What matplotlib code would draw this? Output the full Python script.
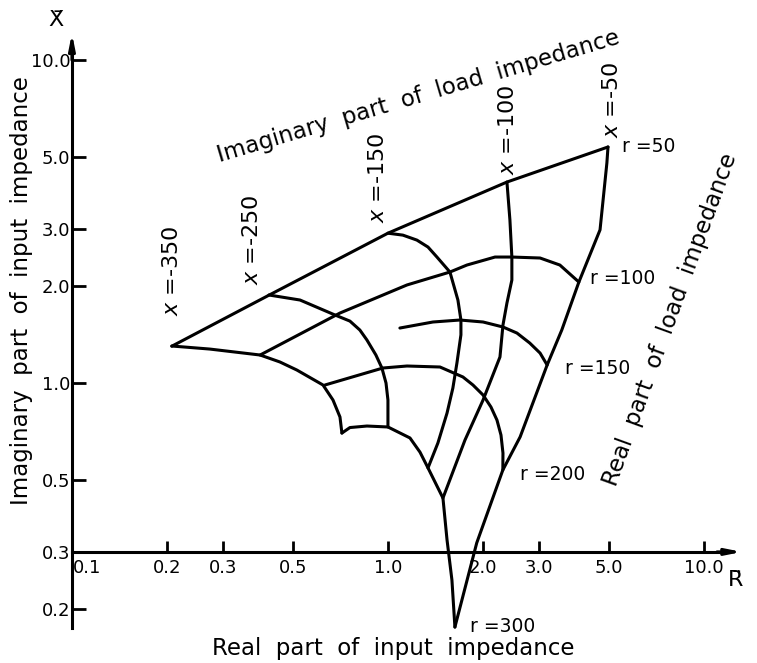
import numpy as np
import matplotlib
matplotlib.use("Agg")
import matplotlib.pyplot as plt
from matplotlib.ticker import NullLocator
import matplotlib.transforms as mtransforms

# input impedance (R, X) traced for constant load r and constant load x
r50_R = [0.207, 0.420, 1.0, 2.38, 4.97]
r50_X = [1.30, 1.87, 2.91, 4.19, 5.38]

r100_R = [4.02, 3.50, 3.03, 2.467, 2.182, 1.778, 1.571, 1.149, 0.705, 0.394]
r100_X = [2.054, 2.319, 2.438, 2.455, 2.455, 2.319, 2.206, 2.012, 1.647, 1.221]

r150_R = [3.19, 3.03, 2.81, 2.56, 2.312, 2.0, 1.69, 1.388, 1.091]
r150_X = [1.137, 1.238, 1.33, 1.428, 1.491, 1.545, 1.567, 1.545, 1.48]

r200_R = [2.31, 2.312, 2.279, 2.213, 2.118, 2.0, 1.858, 1.727, 1.461, 1.149, 0.964, 0.632]
r200_X = [0.538, 0.607, 0.690, 0.768, 0.843, 0.918, 0.986, 1.044, 1.121, 1.129, 1.113, 0.986]

r300_R = [0.715, 0.758, 0.858, 1.0, 1.174, 1.263, 1.339, 1.493, 1.538, 1.594, 1.629]
r300_X = [0.700, 0.728, 0.736, 0.731, 0.676, 0.611, 0.546, 0.4405, 0.327, 0.2455, 0.1756]

x50_R = [4.97, 4.93, 4.69, 4.02, 3.55, 3.19, 2.62, 2.31, 1.91, 1.629]
x50_X = [5.38, 4.80, 2.98, 2.054, 1.46, 1.137, 0.681, 0.538, 0.320, 0.1756]

x100_R = [2.38, 2.432, 2.467, 2.467, 2.38, 2.312, 2.262, 2.0, 1.753, 1.493]
x100_X = [4.19, 3.20, 2.455, 2.084, 1.769, 1.512, 1.204, 0.886, 0.666, 0.4405]

x150_R = [1.0, 1.115, 1.235, 1.339, 1.429, 1.571, 1.665, 1.702, 1.702, 1.653,
          1.605, 1.538, 1.439, 1.339]
x150_X = [2.91, 2.87, 2.77, 2.636, 2.455, 2.206, 1.807, 1.567, 1.41, 1.153,
          0.965, 0.807, 0.652, 0.546]

x250_R = [0.420, 0.527, 0.680, 0.758, 0.815, 0.858, 0.916, 0.957, 0.986, 1.0, 1.0]
x250_X = [1.873, 1.807, 1.624, 1.555, 1.459, 1.359, 1.221, 1.113, 1.0, 0.886, 0.731]

x350_R = [0.207, 0.273, 0.394, 0.455, 0.515, 0.623, 0.670, 0.705, 0.715]
x350_X = [1.302, 1.274, 1.221, 1.162, 1.097, 0.986, 0.886, 0.785, 0.700]

ticks = [0.1, 0.2, 0.3, 0.5, 1.0, 2.0, 3.0, 5.0, 10.0]
tick_labels = ["0.1", "0.2", "0.3", "0.5", "1.0", "2.0", "3.0", "5.0", "10.0"]

W, H = 757, 663
fig = plt.figure(figsize=(W / 100, H / 100), dpi=100)
ax = fig.add_axes([0, 0, 1, 1])
ax.set_xscale("log")
ax.set_yscale("log")
ax.set_xlim(0.0592, 14.72)
ax.set_ylim(0.1359, 15.34)


def fpos(px, py):
    return px / W, 1 - py / H


lw = 2.2
for xs, ys in [(r50_R, r50_X), (r100_R, r100_X), (r150_R, r150_X),
               (r200_R, r200_X), (r300_R, r300_X), (x50_R, x50_X),
               (x100_R, x100_X), (x150_R, x150_X), (x250_R, x250_X),
               (x350_R, x350_X)]:
    ax.plot(xs, ys, color="black", lw=lw, solid_joinstyle="round",
            solid_capstyle="round")

# axes crossing at R=0.1, X=0.3
for s in ["top", "right"]:
    ax.spines[s].set_visible(False)
ax.spines["left"].set_position(("data", 0.1))
ax.spines["bottom"].set_position(("data", 0.3))
ax.spines["left"].set_bounds(0.1744, 10.5)
ax.spines["bottom"].set_bounds(0.1, 11.5)
ax.spines["left"].set_linewidth(2.2)
ax.spines["bottom"].set_linewidth(2.2)
ax.annotate("", xy=(0.1, 12.1), xytext=(0.1, 10.0),
            arrowprops=dict(arrowstyle="-|>,head_length=0.9,head_width=0.18",
                            lw=2.2, color="black", shrinkA=0, shrinkB=0))
ax.annotate("", xy=(13.2, 0.3), xytext=(11.0, 0.3),
            arrowprops=dict(arrowstyle="-|>,head_length=0.9,head_width=0.18",
                            lw=2.2, color="black", shrinkA=0, shrinkB=0))

ax.xaxis.set_minor_locator(NullLocator())
ax.yaxis.set_minor_locator(NullLocator())
ax.set_xticks(ticks[1:] + [0.1])
ax.set_xticklabels(tick_labels[1:] + [tick_labels[0]])
ax.set_yticks([0.2, 0.3, 0.5, 1.0, 2.0, 3.0, 5.0, 10.0])
ax.set_yticklabels(["0.2", "0.3", "0.5", "1.0", "2.0", "3.0", "5.0", "10.0"])
ax.tick_params(axis="x", direction="in", length=8, width=2, labelsize=13, pad=5)
ax.tick_params(axis="y", direction="in", length=10, width=2, labelsize=13, pad=1)
# first R label sits right of the vertical axis
lab01 = ax.get_xticklabels()[-1]
lab01.set_transform(lab01.get_transform() +
                    mtransforms.ScaledTranslation(15 / 100, 0, fig.dpi_scale_trans))
ax.get_xticklines()[-2].set_visible(False)

ax.text(*fpos(56, 20), "X\u0304", transform=fig.transFigure, fontsize=16,
        ha="center", va="center")
ax.text(*fpos(736, 580), "R\u0304", transform=fig.transFigure, fontsize=16,
        ha="center", va="center")

title_kw = dict(transform=fig.transFigure, fontsize=16.5, ha="center", va="center")
ax.text(*fpos(393, 648), "Real  part  of  input  impedance", **title_kw)
ax.text(*fpos(22, 291), "Imaginary  part  of  input  impedance",
        rotation=90, **title_kw)
ax.text(*fpos(418, 97), "Imaginary  part  of  load  impedance",
        rotation=16.5, rotation_mode="anchor", **title_kw)
ax.text(*fpos(670, 320), "Real  part  of  load  impedance",
        rotation=70, rotation_mode="anchor", **title_kw)

x_labels = ["-350", "-250", "-150", "-100", "-50"]
x_label_pos = [(172, 271), (252, 240), (378, 178), (508, 130), (612, 100)]
for t, (px, py) in zip(x_labels, x_label_pos):
    ax.text(*fpos(px, py), r"$x$ =" + t, transform=fig.transFigure,
            fontsize=16, ha="center", va="center", rotation=90)

r_labels = ["50", "100", "150", "200", "300"]
r_label_pos = [(622, 146), (590, 278), (565, 368), (520, 474), (470, 626)]
for t, (px, py) in zip(r_labels, r_label_pos):
    ax.text(*fpos(px, py), "r =" + t, transform=fig.transFigure,
            fontsize=13.5, ha="left", va="center")

fig.savefig("out.png", dpi=100)
